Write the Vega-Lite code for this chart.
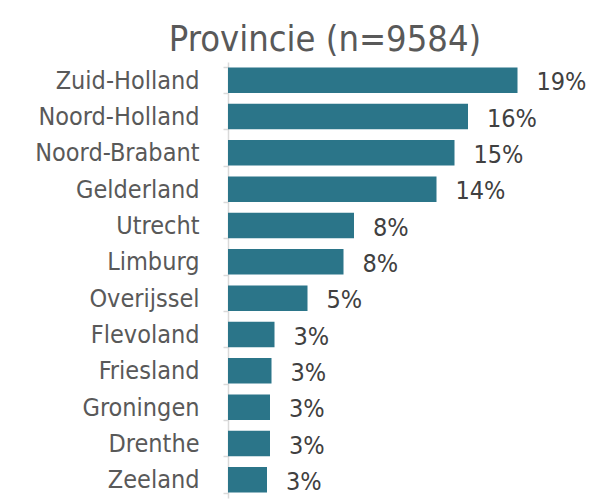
{
  "$schema": "https://vega.github.io/schema/vega-lite/v6.json",
  "width": 300,
  "height": 436,
  "autosize": {"type": "none"},
  "padding": {"left": 228, "top": 62, "right": 65, "bottom": 2},
  "background": "white",
  "title": {
    "text": "Provincie (n=9584)",
    "font": "DejaVu Sans Condensed",
    "fontSize": 36,
    "fontWeight": "normal",
    "color": "#595959",
    "anchor": "middle",
    "frame": "group",
    "dx": -53,
    "offset": -37,
    "baseline": "alphabetic"
  },
  "data": {
    "values": [
      {"provincie": "Zuid-Holland", "aandeel": 0.193},
      {"provincie": "Noord-Holland", "aandeel": 0.160},
      {"provincie": "Noord-Brabant", "aandeel": 0.151},
      {"provincie": "Gelderland", "aandeel": 0.139},
      {"provincie": "Utrecht", "aandeel": 0.084},
      {"provincie": "Limburg", "aandeel": 0.077},
      {"provincie": "Overijssel", "aandeel": 0.053},
      {"provincie": "Flevoland", "aandeel": 0.031},
      {"provincie": "Friesland", "aandeel": 0.029},
      {"provincie": "Groningen", "aandeel": 0.028},
      {"provincie": "Drenthe", "aandeel": 0.028},
      {"provincie": "Zeeland", "aandeel": 0.026}
    ]
  },
  "encoding": {
    "y": {
      "field": "provincie",
      "type": "nominal",
      "sort": ["Zuid-Holland", "Noord-Holland", "Noord-Brabant", "Gelderland", "Utrecht", "Limburg", "Overijssel", "Flevoland", "Friesland", "Groningen", "Drenthe", "Zeeland"],
      "scale": {"paddingInner": 0.3, "paddingOuter": 0.15},
      "axis": {
        "title": null,
        "domainColor": "#d9d9d9",
        "domainWidth": 1.5,
        "tickColor": "#d9d9d9",
        "tickWidth": 1.5,
        "tickSize": 5,
        "tickBand": "extent",
        "labelFont": "DejaVu Sans Condensed",
        "labelFontSize": 25,
        "labelColor": "#595959",
        "labelPadding": 24
      }
    },
    "x": {
      "field": "aandeel",
      "type": "quantitative",
      "scale": {"domain": [0, 0.2], "nice": false},
      "axis": null
    }
  },
  "layer": [
    {
      "mark": {"type": "bar", "color": "#2b7589"}
    },
    {
      "mark": {
        "type": "text",
        "align": "left",
        "baseline": "middle",
        "dx": 19,
        "dy": 2,
        "font": "DejaVu Sans Condensed",
        "fontSize": 25,
        "color": "#404040"
      },
      "encoding": {
        "text": {"field": "aandeel", "type": "quantitative", "format": ".0%"}
      }
    }
  ],
  "config": {
    "view": {"stroke": null}
  }
}
